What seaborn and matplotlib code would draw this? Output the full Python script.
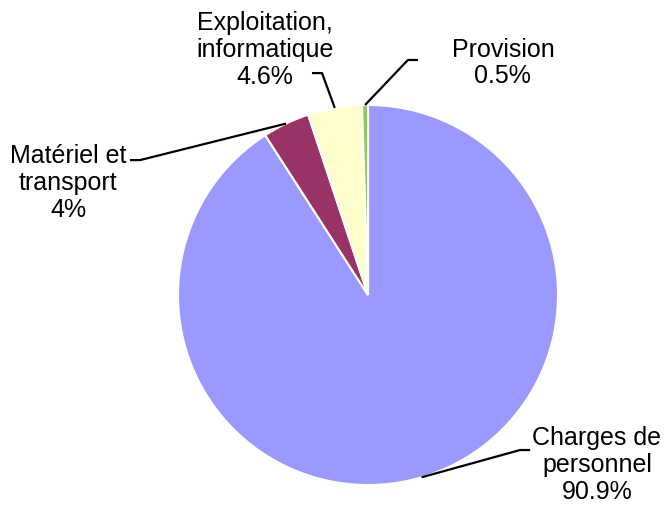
import numpy as np
import matplotlib
matplotlib.use("Agg")
import matplotlib.pyplot as plt
import seaborn as sns

# data
labels = ["Charges de\npersonnel", "Matériel et\ntransport", "Exploitation,\ninformatique", "Provision"]
values = [90.9, 4.0, 4.6, 0.5]
pct_text = ["90.9%", "4%", "4.6%", "0.5%"]
colors = ["#9999FF", "#993366", "#FFFFCC", "#8CC85A"]

# label layout (data coords, pie radius = 1)
elbow = [(0.80, -0.816), (-1.20, 0.71), (-0.242, 1.168), (0.21, 1.237)]
tail = [(0.853, -0.816), (-1.253, 0.71), (-0.295, 1.168), (0.263, 1.237)]
text_pos = [(1.205, -0.895), (-1.579, 0.589), (-0.542, 1.289), (0.71, 1.221)]

sns.set_style("white")
plt.rcParams['font.family'] = ['Liberation Sans', 'DejaVu Sans']

fig = plt.figure(figsize=(6.67, 5.07), dpi=100)
ax = fig.add_axes([0.2669, 0.0434, 0.5697, 0.7495])

ax.pie(values, colors=colors, startangle=90, counterclock=False, radius=1,
       wedgeprops=dict(edgecolor="white", linewidth=1.5))
ax.set_xlim(-1, 1)
ax.set_ylim(-1, 1)
ax.set_aspect("equal")
ax.axis("off")

# mid angle of each slice (clockwise from top)
cum = np.cumsum([0] + values[:-1])
total = sum(values)
for i, v in enumerate(values):
    mid = (cum[i] + v / 2) / total * 2 * np.pi
    px, py = np.sin(mid), np.cos(mid)
    xs = [px, elbow[i][0], tail[i][0]]
    ys = [py, elbow[i][1], tail[i][1]]
    ax.plot(xs, ys, color="black", lw=1.6, clip_on=False, solid_capstyle="butt")
    ax.text(text_pos[i][0], text_pos[i][1], labels[i] + "\n" + pct_text[i],
            ha="center", va="center", fontsize=18, color="black",
            linespacing=1.15, clip_on=False)

fig.savefig("out.png", dpi=100)
